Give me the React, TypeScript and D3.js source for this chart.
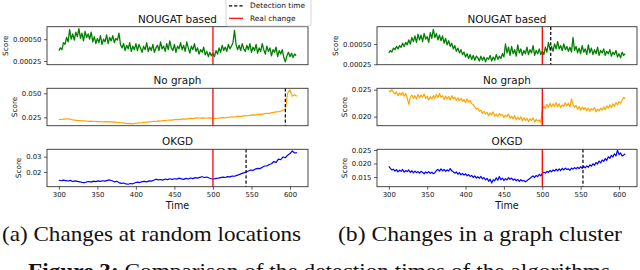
import React, { useEffect, useRef } from 'react';
import * as d3 from 'd3';

// sample grids: fine (every 2 steps) for the noisy series, coarse (every 3) for the smooth ones
const timesFine = d3.range(300, 609, 2);
const timesCoarse = d3.range(300, 610, 3);

const timeTicks = [300, 350, 400, 450, 500, 550, 600];
const subplotTitles = ['NOUGAT based', 'No graph', 'OKGD'];
const lineColors = ['green', 'orange', 'blue'];
const lineWidths = [1.3, 1.2, 1.2];
const realChange = 500;

// (a) random locations -- NOUGAT in 1e-5, the others in 1e-3
const nougatRandom = [
  37, 40, 38, 46, 44, 52, 47, 61, 50, 56,
  49, 58, 53, 62, 51, 57, 48, 59, 52, 56,
  50, 58, 47, 53, 45, 51, 46, 54, 44, 50,
  47, 55, 45, 52, 48, 54, 46, 51, 49, 57,
  44, 40, 45, 37, 43, 39, 46, 36, 42, 38,
  45, 37, 44, 40, 35, 42, 38, 46, 36, 41,
  37, 44, 35, 40, 43, 37, 47, 39, 42, 36,
  45, 38, 48, 40, 37, 44, 35, 42, 39, 46,
  38, 43, 36, 47, 40, 34, 42, 38, 45, 36,
  40, 33, 38, 35, 41, 32, 36, 30, 35, 31,
  34, 30, 37, 33, 40, 35, 43, 37, 41, 36,
  44, 39, 42, 46, 60, 44, 38, 43, 37, 45,
  39, 36, 43, 38, 45, 35, 41, 37, 44, 34,
  40, 36, 45, 38, 33, 42, 36, 40, 31, 38,
  35, 41, 30, 37, 33, 38, 29, 24, 31, 35,
  30, 34, 29, 33, 31,
];
const noGraphRandom = [
  22.9, 22.7, 23.1, 23.2, 23.4, 23.0, 22.4, 22.0, 21.6, 21.5,
  21.2, 21.4, 21.0, 20.8, 21.0, 20.6, 20.7, 20.4, 20.6, 20.3,
  20.5, 20.2, 20.4, 20.0, 20.3, 19.8, 19.6, 19.3, 19.1, 18.7,
  18.5, 18.6, 18.2, 18.6, 18.9, 19.3, 19.5, 19.8, 20.0, 20.3,
  20.5, 20.8, 20.6, 21.2, 21.0, 21.6, 21.5, 21.9, 22.1, 22.0,
  22.5, 22.8, 22.6, 23.1, 23.3, 23.1, 23.6, 23.8, 23.6, 24.1,
  24.3, 24.0, 24.4, 24.2, 24.0, 24.3, 24.1, 23.7, 23.9, 24.0,
  24.3, 24.6, 24.5, 25.0, 25.2, 25.5, 25.3, 25.9, 26.1, 26.0,
  26.5, 26.8, 26.6, 27.2, 27.5, 27.3, 28.0, 28.3, 28.1, 28.8,
  29.2, 29.0, 29.8, 30.2, 30.6, 30.8, 31.5, 32.3, 33.5, 50.5,
  53.5, 47.0, 48.5, 47.0,
];
const okgdRandom = [
  14.6, 14.3, 14.7, 14.4, 14.1, 14.5, 13.8, 14.2, 13.9, 13.6,
  13.2, 13.0, 13.5, 13.8, 13.4, 14.0, 13.7, 14.2, 13.9, 14.3,
  14.0, 14.5, 14.8, 14.3, 13.6, 13.9, 13.1, 12.6, 12.8, 12.2,
  12.0, 12.5, 12.3, 13.0, 13.4, 13.1, 13.7, 13.9, 13.5, 14.2,
  14.0, 14.6, 15.3, 14.8, 15.1, 14.7, 15.4, 15.0, 15.6, 15.2,
  15.6, 15.3, 16.0, 15.5, 15.2, 15.8, 15.4, 16.1, 15.7, 16.3,
  16.0, 16.5, 16.9, 16.4, 16.7, 16.1, 15.6, 15.4, 15.8, 16.0,
  16.3, 16.6, 16.4, 17.0, 16.8, 17.4, 17.2, 17.8, 18.3, 18.9,
  19.4, 20.0, 20.6, 21.3, 21.0, 21.9, 22.4, 22.2, 23.1, 23.9,
  23.9, 24.9, 25.4, 26.8, 26.3, 28.4, 28.0, 29.8, 29.3, 31.0,
  32.0, 33.7, 32.4, 32.6,
];

// (b) graph cluster
const nougatCluster = [
  39, 42, 40, 45, 43, 47, 44, 48, 46, 51,
  47, 52, 49, 55, 50, 58, 53, 60, 52, 62,
  55, 61, 53, 63, 56, 59, 52, 64, 57, 68,
  58, 63, 55, 61, 54, 60, 51, 57, 49, 54,
  47, 51, 44, 48, 41, 45, 39, 43, 37, 40,
  34, 38, 32, 37, 31, 36, 30, 35, 33, 29,
  35, 30, 34, 28, 33, 31, 36, 29, 34, 30,
  37, 31, 35, 32, 38, 34, 50, 39, 46, 36,
  47, 38, 43, 35, 49, 39, 44, 36, 42, 38,
  46, 37, 43, 39, 48, 36, 42, 38, 44, 37,
  41, 37, 46, 40, 52, 43, 47, 41, 50, 44,
  53, 44, 48, 42, 50, 43, 47, 41, 46, 40,
  58, 42, 47, 39, 45, 38, 48, 40, 44, 37,
  49, 39, 45, 37, 43, 38, 46, 36, 42, 39,
  44, 36, 41, 38, 43, 35, 40, 37, 42, 34,
  38, 33, 40, 36, 38,
];
const noGraphCluster = [
  24.8, 24.6, 25.0, 24.5, 24.2, 24.6, 23.9, 24.4, 24.0, 24.5,
  23.8, 24.3, 23.5, 22.3, 23.6, 24.0, 23.4, 23.9, 23.3, 24.1,
  23.5, 24.0, 23.6, 24.2, 23.4, 23.8, 23.1, 23.7, 23.3, 23.9,
  23.4, 24.1, 23.5, 24.3, 23.6, 23.9, 23.2, 23.8, 23.3, 23.7,
  23.1, 23.9, 23.3, 23.6, 23.0, 23.5, 22.9, 23.4, 22.8, 23.2,
  22.6, 23.3, 22.7, 23.0, 22.4, 22.2, 21.8, 21.4, 21.6, 21.0,
  21.2, 20.6, 21.0, 20.5, 20.8, 20.2, 20.7, 20.3, 20.9, 20.1,
  20.5, 20.0, 20.6, 20.2, 20.4, 19.8, 20.3, 20.0, 20.5, 19.7,
  20.1, 19.6, 20.2, 19.4, 19.9, 19.5, 20.0, 19.2, 19.8, 19.3,
  19.7, 19.1, 19.6, 19.3, 19.8, 19.0, 19.5, 19.2, 19.4, 18.9,
  21.3, 21.9, 21.5, 22.3, 21.7, 22.5, 21.8, 22.4, 21.9, 22.6,
  21.8, 22.4, 21.7, 22.2, 21.9, 22.6, 22.0, 22.5, 21.8, 23.3,
  22.3, 21.7, 22.1, 21.4, 21.9, 21.2, 21.8, 21.3, 21.7, 21.1,
  21.6, 21.0, 21.5, 21.2, 21.7, 20.9, 21.4, 21.1, 21.6, 21.2,
  21.8, 21.3, 22.0, 21.6, 22.2, 21.7, 22.4, 21.9, 22.6, 22.2,
  22.8, 22.5, 23.1, 23.6, 23.3,
];
const okgdCluster = [
  18.9, 18.2, 17.6, 17.9, 17.2, 17.7, 16.9, 17.5, 17.1, 17.8,
  16.8, 17.4, 17.0, 17.6, 16.7, 17.3, 16.5, 17.2, 16.6, 17.0,
  16.4, 17.1, 16.7, 16.2, 16.9, 16.4, 17.0, 16.3, 16.8, 16.2,
  16.6, 17.4, 17.8, 17.2, 18.0, 17.3, 17.8, 17.1, 17.6, 17.2,
  18.1, 17.3, 16.9, 16.4, 16.9, 16.0, 16.6, 15.8, 16.3, 15.7,
  16.2, 15.4, 15.9, 15.2, 15.6, 14.8, 15.4, 14.6, 15.1, 14.5,
  15.2, 14.3, 14.8, 13.9, 14.5, 13.4, 14.2, 12.8, 14.0, 13.6,
  14.7, 13.8, 15.2, 14.0, 14.6, 13.7, 14.4, 13.9, 14.8, 14.1,
  14.6, 13.8, 14.3, 13.6, 14.1, 13.4, 14.0, 13.5, 13.7, 13.2,
  13.6, 14.1, 14.5, 15.0, 15.4, 14.8, 15.6, 15.1, 16.0, 15.4,
  16.3, 16.8, 16.4, 17.1, 16.7, 17.4, 16.9, 17.6, 17.2, 17.9,
  17.3, 18.0, 17.4, 18.2, 17.6, 18.3, 17.8, 18.0, 17.5, 18.3,
  17.9, 18.5, 18.0, 18.6, 18.1, 18.8, 18.2, 18.9, 18.4, 19.1,
  18.6, 19.5, 19.0, 19.9, 19.3, 20.4, 19.8, 20.9, 20.2, 21.3,
  20.8, 21.8, 21.2, 22.5, 21.9, 23.0, 22.4, 23.6, 22.8, 24.9,
  23.3, 23.9, 22.8, 23.1, 23.6,
];

const detectRandom = [null, 594, 543];
const detectCluster = [511, null, 553];

const unitScale = [1e-5, 1e-3, 1e-3];

const panels = [
  {
    left: 47, right: 308,
    series: [nougatRandom, noGraphRandom, okgdRandom],
    times: [timesFine, timesCoarse, timesCoarse],
    detect: detectRandom,
    yDomains: [[0.000208, 0.000643], [0.01625, 0.0552], [0.0104, 0.0348]],
    yTicks: [[0.00025, 0.0005], [0.025, 0.05], [0.02, 0.03]],
    yFormats: ['.5f', '.3f', '.2f'],
    caption: '(a) Changes at random locations',
    captionX: 2, captionLen: 299,
  },
  {
    left: 377, right: 637,
    series: [nougatCluster, noGraphCluster, okgdCluster],
    times: [timesFine, timesFine, timesFine],
    detect: detectCluster,
    yDomains: [[0.000245, 0.000713], [0.01833, 0.02526], [0.0114, 0.02526]],
    yTicks: [[0.00025, 0.0005], [0.02, 0.025], [0.015, 0.02, 0.025]],
    yFormats: ['.5f', '.3f', '.3f'],
    caption: '(b) Changes in a graph cluster',
    captionX: 338, captionLen: 284,
  },
];

const rows = [
  { top: 26.7, bottom: 64.7 },
  { top: 88.3, bottom: 125.7 },
  { top: 149.3, bottom: 186.7 },
];

const SANS = '"DejaVu Sans", sans-serif';
const SERIF = '"Liberation Serif", "Times New Roman", serif';
const TICK_FS = 6.9;

export default function App() {
  const svgRef = useRef<SVGSVGElement>(null);

  useEffect(() => {
    if (!svgRef.current) return;
    const svg = d3.select(svgRef.current);
    svg.selectAll('*').remove();

    panels.forEach(p => {
      const x = d3.scaleLinear().domain([284.6, 623.4]).range([p.left, p.right]);

      rows.forEach((r, k) => {
        const y = d3.scaleLinear().domain(p.yDomains[k]).range([r.bottom, r.top]);
        const g = svg.append('g');
        const ts = p.times[k];
        const vals = p.series[k].map(v => v * unitScale[k]);

        const line = d3.line<number>()
          .x((_, i) => x(ts[i]))
          .y(v => y(v));

        g.append('path')
          .datum(vals)
          .attr('d', line)
          .attr('fill', 'none')
          .attr('stroke', lineColors[k])
          .attr('stroke-width', lineWidths[k])
          .attr('stroke-linejoin', 'round');

        const det = p.detect[k];
        if (det != null) {
          g.append('line')
            .attr('x1', x(det)).attr('x2', x(det))
            .attr('y1', r.top).attr('y2', r.bottom)
            .attr('stroke', '#000')
            .attr('stroke-width', 1.2)
            .attr('stroke-dasharray', '3.2,2');
        }

        g.append('line')
          .attr('x1', x(realChange)).attr('x2', x(realChange))
          .attr('y1', r.top).attr('y2', r.bottom)
          .attr('stroke', '#ff0000')
          .attr('stroke-width', 1.3);

        // frame
        g.append('rect')
          .attr('x', p.left).attr('y', r.top)
          .attr('width', p.right - p.left).attr('height', r.bottom - r.top)
          .attr('fill', 'none')
          .attr('stroke', '#333')
          .attr('stroke-width', 0.9);

        const yAxis = g.append('g')
          .attr('transform', `translate(${p.left},0)`)
          .call(d3.axisLeft(y)
            .tickValues(p.yTicks[k])
            .tickFormat(d3.format(p.yFormats[k]) as any)
            .tickSize(3)
            .tickPadding(2.5));
        yAxis.select('.domain').remove();
        yAxis.attr('font-size', TICK_FS).attr('font-family', SANS);
        yAxis.selectAll('line').attr('stroke', '#333').attr('stroke-width', 0.8);
        yAxis.selectAll('text').attr('fill', '#111');

        // y label sits left of the widest tick label
        const labelChars = d3.format(p.yFormats[k])(p.yTicks[k][0]).length;
        const labelX = p.left - 5.5 - ((labelChars - 1) * 0.636 + 0.318) * TICK_FS - 7.5;
        const yMid = (r.top + r.bottom) / 2;
        g.append('text')
          .attr('transform', `translate(${labelX},${yMid}) rotate(-90)`)
          .attr('text-anchor', 'middle')
          .attr('dy', '0.35em')
          .attr('font-family', SANS)
          .attr('font-size', 7.3)
          .attr('fill', '#111')
          .text('Score');

        g.append('text')
          .attr('x', (p.left + p.right) / 2)
          .attr('y', r.top - 7.8)
          .attr('dy', '0.35em')
          .attr('text-anchor', 'middle')
          .attr('font-family', SANS)
          .attr('font-size', 10.4)
          .attr('fill', '#111')
          .text(subplotTitles[k]);

        if (k === rows.length - 1) {
          const xAxis = g.append('g')
            .attr('transform', `translate(0,${r.bottom})`)
            .call(d3.axisBottom(x).tickValues(timeTicks).tickSize(3).tickPadding(2));
          xAxis.select('.domain').remove();
          xAxis.attr('font-size', TICK_FS).attr('font-family', SANS);
          xAxis.selectAll('line').attr('stroke', '#333').attr('stroke-width', 0.8);
          xAxis.selectAll('text').attr('fill', '#111');

          g.append('text')
            .attr('x', (p.left + p.right) / 2)
            .attr('y', 206)
            .attr('dy', '0.35em')
            .attr('text-anchor', 'middle')
            .attr('font-family', SANS)
            .attr('font-size', 9.6)
            .attr('fill', '#111')
            .text('Time');
        }
      });

      svg.append('text')
        .attr('x', p.captionX)
        .attr('y', 241)
        .attr('font-family', SERIF)
        .attr('font-size', 21)
        .attr('fill', '#111')
        .attr('textLength', p.captionLen)
        .attr('lengthAdjust', 'spacingAndGlyphs')
        .text(p.caption);
    });

    // legend (top right of panel a)
    const lg = svg.append('g');
    lg.append('rect')
      .attr('x', 226).attr('y', -2).attr('width', 85).attr('height', 28)
      .attr('rx', 2)
      .attr('fill', '#fff').attr('fill-opacity', 0.8)
      .attr('stroke', '#ccc').attr('stroke-width', 0.8);
    const entries = [
      { label: 'Detection time', color: '#000', dash: '3.2,2', y: 5.8 },
      { label: 'Real change', color: '#ff0000', dash: null, y: 18.3 },
    ];
    entries.forEach(e => {
      lg.append('line')
        .attr('x1', 229).attr('x2', 243)
        .attr('y1', e.y).attr('y2', e.y)
        .attr('stroke', e.color)
        .attr('stroke-width', 1.2)
        .attr('stroke-dasharray', e.dash);
      lg.append('text')
        .attr('x', 250).attr('y', e.y)
        .attr('dy', '0.35em')
        .attr('font-family', SANS)
        .attr('font-size', 7.4)
        .attr('fill', '#111')
        .text(e.label);
    });

    // figure caption, cut off by the bottom edge as in the source page
    const fig = svg.append('text')
      .attr('x', 28).attr('y', 278)
      .attr('font-family', SERIF)
      .attr('font-size', 21)
      .attr('fill', '#111')
      .attr('textLength', 582)
      .attr('lengthAdjust', 'spacingAndGlyphs');
    fig.append('tspan').attr('font-weight', 'bold').text('Figure 3:');
    fig.append('tspan').text(' Comparison of the detection times of the algorithms');
  }, []);

  return (
    <svg
      ref={svgRef}
      width={640}
      height={270}
      style={{ position: 'absolute', left: 0, top: 0, background: '#fff' }}
    />
  );
}
